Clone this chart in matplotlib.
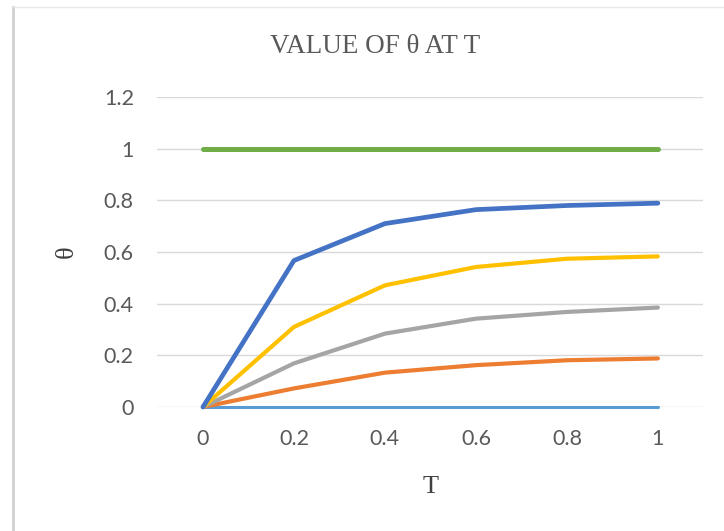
import matplotlib.pyplot as plt
from matplotlib.lines import Line2D

# temperature profiles theta(T) for six series
t_labels = ["0", "0.2", "0.4", "0.6", "0.8", "1"]
t_values = [0.0, 0.2, 0.4, 0.6, 0.8, 1.0]

theta_1 = [0.0, 0.0, 0.0, 0.0, 0.0, 0.0]
theta_2 = [0.0, 0.072, 0.133, 0.162, 0.181, 0.188]
theta_3 = [0.0, 0.169, 0.284, 0.342, 0.368, 0.385]
theta_4 = [0.0, 0.310, 0.471, 0.542, 0.574, 0.583]
theta_5 = [0.0, 0.567, 0.710, 0.764, 0.780, 0.789]
theta_6 = [1.0, 1.0, 1.0, 1.0, 1.0, 1.0]

series = [
    (theta_1, "#5B9BD5", 2.2),
    (theta_2, "#ED7D31", 3.0),
    (theta_3, "#A5A5A5", 3.0),
    (theta_4, "#FFC000", 3.0),
    (theta_5, "#4472C4", 3.4),
    (theta_6, "#70AD47", 3.6),
]

fig = plt.figure(figsize=(7.24, 5.31), dpi=100)
ax = fig.add_axes([0.2175, 0.2335, 0.754, 0.5838])

for y, color, lw in series:
    ax.plot(t_values, y, color=color, lw=lw, solid_capstyle="round",
            solid_joinstyle="round", zorder=3, clip_on=False)

ax.set_xlim(-0.1, 1.1)
ax.set_ylim(0, 1.2)
ax.set_xticks(t_values)
ax.set_xticklabels(t_labels)
ax.set_yticks([0, 0.2, 0.4, 0.6, 0.8, 1.0, 1.2])
ax.set_yticklabels(["0", "0.2", "0.4", "0.6", "0.8", "1", "1.2"])
ax.grid(axis="y", color="#D9D9D9", lw=1.0, zorder=0)
ax.tick_params(length=0, labelsize=15.5, labelcolor="#595959")
ax.tick_params(axis="x", pad=16)
ax.tick_params(axis="y", pad=17)
for lab in ax.get_xticklabels() + ax.get_yticklabels():
    lab.set_family("Lato")
for s in ax.spines.values():
    s.set_visible(False)

ax.set_xlabel("T", family="Liberation Serif", fontsize=19, color="#404040",
              labelpad=19)
ax.set_ylabel("θ", family="Liberation Serif", fontsize=19, color="#404040",
              labelpad=19)
fig.text(0.518, 0.912, "VALUE OF θ AT T", family="Liberation Serif",
         fontsize=19.5, color="#595959", ha="center", va="center")

# thin frame on the top and left edges
fig.add_artist(Line2D([0.018, 0.018], [0.0, 0.987], color="#D0D0D0", lw=2))
fig.add_artist(Line2D([0.018, 1.0], [0.987, 0.987], color="#E8E8E8", lw=1))

fig.savefig("out.png", dpi=100)
